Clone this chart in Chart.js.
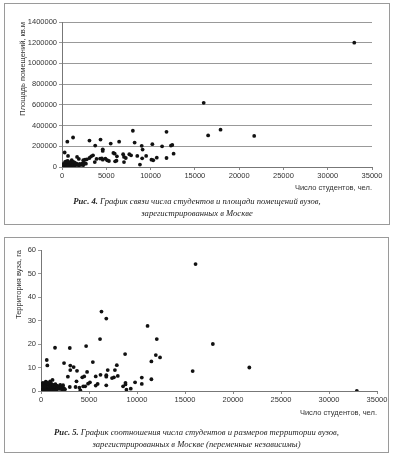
<!DOCTYPE html>
<html>
<head>
<meta charset="utf-8">
<script src="https://cdn.jsdelivr.net/npm/chart.js@4/dist/chart.umd.min.js"></script>
<style>
  html, body { margin: 0; padding: 0; background: #fff; }
  body { width: 393px; height: 457px; position: relative; overflow: hidden; }
  .box { position: absolute; border: 1px solid #9a9a9a; box-sizing: border-box; }
  canvas { position: absolute; }
  .cap {
    position: absolute; text-align: center;
    font-family: "Liberation Serif", "DejaVu Serif", serif;
    font-style: italic; font-size: 8.6px; line-height: 12px; color: #222;
    will-change: transform;
  }
  .cap b { font-weight: bold; }
</style>
</head>
<body>
<div class="box" style="left:4px;top:3px;width:386px;height:222px;"></div>
<div class="box" style="left:4px;top:237px;width:385px;height:216px;"></div>

<canvas id="c1" width="393" height="196" style="left:0;top:0;"></canvas>
<canvas id="c2" width="393" height="191" style="left:0;top:230px;"></canvas>

<div class="cap" style="left:4px;width:386px;top:195px;"><b>Рис. 4.</b> График связи числа студентов и площади помещений вузов,<br>зарегистрированных в Москве</div>
<div class="cap" style="left:4px;width:385px;top:426px;"><b>Рис. 5.</b> График соотношения числа студентов и размеров территории вузов,<br>зарегистрированных в Москве (переменные независимы)</div>

<script>
// Рис. 4: число студентов / площадь помещений, кв.м
const students1 = [
  33000, 16000, 16500, 17900, 21700, 8000, 11800, 8200, 5500, 6450,
  4350, 3100, 3750, 1250, 600, 300, 680, 10200, 11300, 12300,
  12450, 12600, 11800, 10700, 10300, 10100, 9500, 9000, 9100, 9050,
  8800, 8500, 7600, 7800, 6900, 7000, 7000, 7200, 6200, 6150,
  6000, 5800, 5950, 4600, 4600, 4900, 5100, 4600, 4500, 5300,
  4300, 3900, 3700, 3500, 3300, 3100, 2800, 2600, 2400, 1900,
  1700, 1100, 1300,
  100, 150, 200, 250, 300, 320, 380, 400, 450, 500,
  520, 560, 600, 620, 680, 700, 750, 800, 850, 900,
  950, 1000, 1050, 1100, 1150, 1200, 1300, 1350, 1400, 1500,
  1550, 1600, 1700, 1800, 1900, 2000, 2100, 2200, 2300, 2400,
  80, 180, 50, 350, 480, 650, 1250, 2500, 2700
];
const area1 = [
  1200000, 620000, 305000, 360000, 300000, 350000, 340000, 236000, 226000, 245000,
  265000, 255000, 207000, 285000, 245000, 140000, 107000, 220000, 200000, 207000,
  213000, 129000, 87000, 90000, 65000, 71000, 107000, 204000, 168000, 84000,
  23000, 107000, 123000, 113000, 123000, 97000, 48000, 87000, 103000, 61000,
  55000, 136000, 129000, 171000, 155000, 81000, 65000, 71000, 84000, 58000,
  81000, 78000, 48000, 113000, 103000, 87000, 74000, 71000, 65000, 78000,
  97000, 65000, 42000,
  5000, 12000, 8000, 20000, 3000, 15000, 25000, 10000, 30000, 6000,
  18000, 40000, 12000, 22000, 35000, 8000, 28000, 15000, 45000, 20000,
  10000, 32000, 25000, 14000, 38000, 20000, 30000, 12000, 45000, 25000,
  18000, 35000, 28000, 22000, 15000, 30000, 20000, 25000, 35000, 18000,
  20000, 30000, 2000, 50000, 55000, 60000, 50000, 40000, 32000
];
const yTicks1 = [0, 200000, 400000, 600000, 800000, 1000000, 1200000, 1400000];

// Рис. 5: число студентов / территория вуза, га
const students2 = [
  16100, 17900, 21700, 15800, 32900, 6300, 6800, 11100, 6150, 12060,
  11960, 12400, 11500, 11500, 8760, 7900, 6950, 7700, 1460, 3000,
  4700, 600, 660, 2400, 5400, 3050, 3400, 3050, 3750, 4800,
  2800, 6800, 6800, 4300, 4500, 6200, 5700, 8000, 7400, 7600,
  10500, 10500, 9800, 8800, 8800, 6800, 5900, 5700, 5100, 4900,
  3700, 4600, 4400, 3600, 4000, 4100, 8550, 8900, 9350, 3000,
  2300,
  100, 150, 200, 250, 300, 350, 400, 450, 500, 550,
  600, 650, 700, 750, 800, 850, 900, 950, 1000, 1050,
  1100, 1150, 1200, 1250, 1300, 1400, 1450, 1500, 1600, 1650,
  1700, 1800, 1900, 2000, 2100, 2200, 2300, 2400, 2500, 50,
  120, 380, 620, 1350
];
const territory2 = [
  54, 20, 10, 8.5, 0, 33.8, 30.8, 27.7, 22.1, 22.1,
  15.3, 14.3, 12.6, 5.0, 15.7, 11.0, 8.9, 8.9, 18.4, 18.3,
  19.1, 13.2, 10.9, 11.9, 12.3, 10.8, 10.2, 8.9, 8.6, 8.1,
  6.1, 6.7, 6.1, 5.8, 6.2, 6.9, 6.2, 6.4, 5.5, 5.8,
  5.7, 3.0, 3.7, 3.5, 2.8, 2.4, 3.0, 2.3, 3.7, 3.1,
  4.1, 2.0, 2.0, 1.7, 1.4, 0.3, 2.0, 0.6, 1.0, 1.7,
  1.3,
  0.2, 1.0, 3.5, 0.5, 2.0, 3.0, 0.8, 1.5, 4.0, 0.3,
  2.5, 3.6, 1.2, 0.5, 2.8, 1.8, 0.6, 4.1, 2.2, 1.0,
  3.0, 0.4, 4.7, 1.6, 2.6, 0.8, 1.9, 2.9, 0.5, 2.3,
  1.3, 2.0, 0.9, 2.6, 1.5, 0.4, 2.5, 1.1, 0.7, 3.0,
  2.5, 1.8, 0.1, 0.2
];
const yTicks2 = [0, 10, 20, 30, 40, 50, 60];
const xTicks = [0, 5000, 10000, 15000, 20000, 25000, 30000, 35000];

Chart.defaults.font.family = '"Liberation Sans", Arial, sans-serif';
Chart.defaults.font.size = 7.5;
Chart.defaults.color = '#333';

function makeChart(id, xs, ys, yTicks, yTitle, box, showGrid) {
  const pts = xs.map((x, i) => ({ x: x, y: ys[i] }));
  return new Chart(document.getElementById(id), {
    type: 'scatter',
    data: {
      datasets: [{
        data: pts,
        pointRadius: 1.9,
        pointBackgroundColor: '#111',
        pointBorderWidth: 0
      }]
    },
    options: {
      responsive: false,
      animation: false,
      layout: { padding: { left: box.padLeft, right: box.padRight, top: box.padTop, bottom: 0 } },
      plugins: { legend: { display: false }, tooltip: { enabled: false } },
      scales: {
        x: {
          type: 'linear',
          min: xTicks[0],
          max: xTicks[xTicks.length - 1],
          afterBuildTicks: s => { s.ticks = xTicks.map(v => ({ value: v })); },
          afterFit: s => { s.height = box.xHeight; },
          ticks: { padding: 1, maxRotation: 0, autoSkip: false, callback: v => String(v) },
          grid: { drawOnChartArea: false, tickLength: 3, color: '#888' },
          border: { color: '#777' },
          title: { display: true, text: 'Число студентов, чел.', align: 'end', padding: { top: 2, bottom: 4 } }
        },
        y: {
          type: 'linear',
          min: yTicks[0],
          max: yTicks[yTicks.length - 1],
          afterBuildTicks: s => { s.ticks = yTicks.map(v => ({ value: v })); },
          afterFit: s => { s.width = box.yWidth; },
          ticks: { padding: 2, callback: v => String(v) },
          grid: { drawOnChartArea: showGrid, tickLength: 3, color: '#999' },
          border: { color: '#777' },
          title: { display: true, text: yTitle, align: 'end', padding: { top: 4, bottom: 4 } }
        }
      }
    }
  });
}

makeChart('c1', students1, area1, yTicks1, 'Площадь помещений, кв.м',
  { padLeft: 14, padRight: 21, padTop: 22, yWidth: 48, xHeight: 29 }, true);
makeChart('c2', students2, territory2, yTicks2, 'Территория вуза, га',
  { padLeft: 10, padRight: 16, padTop: 20, yWidth: 31, xHeight: 30 }, false);
</script>
</body>
</html>
